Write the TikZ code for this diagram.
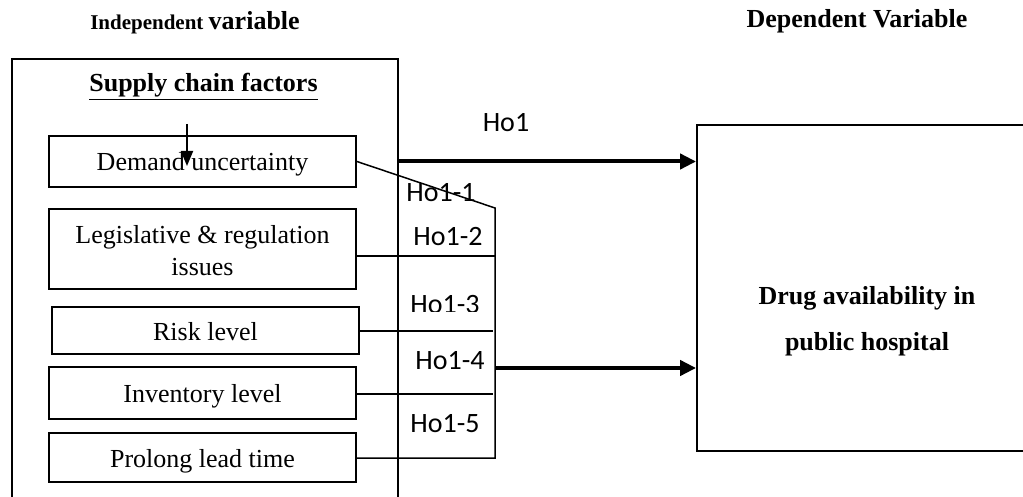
\documentclass[tikz,border=0pt]{standalone}
\usepackage{fontspec}
\setmainfont{Liberation Serif}
\newfontfamily\calfont{Carlito}
\usetikzlibrary{arrows.meta}
\begin{document}
\begin{tikzpicture}[x=1pt,y=-1pt,
  fbox/.style={draw,line width=1.8pt,minimum width=307pt,inner sep=0pt,
    font=\fontsize{26}{32}\selectfont,align=center},
  onebox/.style={fbox,text height=19pt,text depth=0pt},
  thinline/.style={line width=1.5pt},
  bigarrow/.style={line width=4pt,-{Triangle[length=16pt,width=15pt]}},
  ho/.style={font=\calfont\fontsize{28}{32}\selectfont,inner sep=0pt,anchor=base},
  head/.style={font=\bfseries\fontsize{26}{30}\selectfont,inner sep=0pt,anchor=base}]
\useasboundingbox (0,0) rectangle (1023,497);
\clip (0,0) rectangle (1023,497);
\fill[white] (0,0) rectangle (1023,497);

% headings
\node[head] (indep) at (195,30) {\fontsize{21}{26}\selectfont Independent \fontsize{26}{30}\selectfont variable};
\node[head] (dep) at (857,28) {Dependent Variable};

% outer box
\node[draw,line width=2pt,minimum width=386pt,minimum height=470pt,inner sep=0pt] (outer) at (205,294) {};
\node[head] (scf) at (203.5,92) {\underline{Supply chain factors}};

% factor boxes
\node[onebox,minimum height=51pt] (dem) at (202.5,161.5) {Demand uncertainty};
\node[fbox,minimum height=80pt] (leg) at (202.5,249) {\rule{0pt}{22pt}Legislative \& regulation\\issues};
\node[onebox,minimum height=47pt] (risk) at (205.5,330.5) {Risk level};
\node[onebox,minimum height=52pt] (inv) at (202.5,393) {Inventory level};
\node[onebox,minimum height=49pt] (pro) at (202.5,457.5) {Prolong lead time};

% dependent box
\node[draw,line width=1.8pt,minimum width=343pt,minimum height=326pt,inner sep=0pt] (drug) at (868.5,288) {};
\node[font=\bfseries\fontsize{26}{46}\selectfont,align=center,inner sep=0pt] (druglabel) at (867,321) {Drug availability in\\public hospital};

% small arrow into Demand uncertainty
\coordinate (dtop) at (187,124);
\coordinate (dtip) at (187,166);
\draw[line width=1.8pt,-{Triangle[length=15pt,width=12pt]}] (dtop) -- (dtip);

% bracket
\coordinate (bt) at (495,208);
\coordinate (bb) at (495,458);
\coordinate (b2) at (495,256);
\coordinate (b3) at (493,331);
\coordinate (b4) at (493,394);
\coordinate (b5) at (495,368);
\draw[thinline] (dem.east) -- (bt) -- (bb) -- (pro.east |- bb);
\draw[thinline] (leg.east |- b2) -- (b2);
\draw[thinline] (risk.east |- b3) -- (b3);
\draw[thinline] (inv.east |- b4) -- (b4);

% main arrows
\draw[bigarrow] (outer.east |- dem.east) -- (drug.west |- dem.east);
\draw[bigarrow] (b5) -- (drug.west |- b5);

% labels
\node[ho] (h1) at (506,132) {Ho1};
\node[ho] (h11) at (441,202) {Ho1-1};
\node[ho] (h12) at (448,246) {Ho1-2};
\begin{scope}
\clip (400,280) rectangle (495,311);
\node[ho] (h13) at (445,313) {Ho1-3};
\end{scope}
\node[ho] (h14) at (450,369) {Ho1-4};
\node[ho] (h15) at (445,432) {Ho1-5};
\end{tikzpicture}
\end{document}
